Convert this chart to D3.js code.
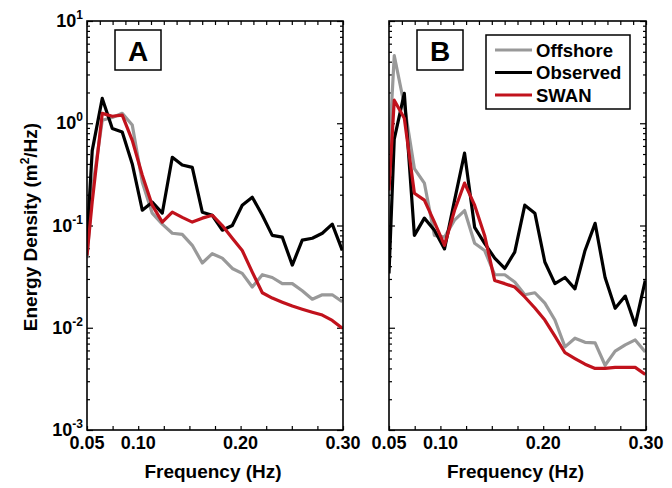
<!DOCTYPE html>
<html>
<head>
<meta charset="utf-8">
<script src="https://cdn.jsdelivr.net/npm/d3@7"></script>
<style>
  body { margin: 0; background: #fff; }
  svg { display: block; font-family: "Liberation Sans", Arial, sans-serif; font-weight: bold; }
</style>
</head>
<body>
<svg id="chart"></svg>
<script>
// frequency bins (Hz)
let freq = [0.05, 0.0551, 0.0649, 0.0747, 0.0844, 0.0942, 0.1040, 0.1137, 0.1235, 0.1333,
            0.1430, 0.1528, 0.1626, 0.1723, 0.1821, 0.1919, 0.2016, 0.2114, 0.2212, 0.2309,
            0.2407, 0.2505, 0.2602, 0.2700, 0.2798, 0.2895, 0.2993]

// panel A spectra (m^2/Hz)
let offshoreA = [0.048, 0.22, 1.07, 1.14, 1.25, 0.96, 0.265, 0.132, 0.103, 0.084,
                 0.082, 0.064, 0.043, 0.053, 0.048, 0.038, 0.034, 0.025, 0.033, 0.031,
                 0.027, 0.027, 0.023, 0.019, 0.021, 0.021, 0.018]
let observedA = [0.072, 0.54, 1.75, 0.89, 0.82, 0.40, 0.141, 0.169, 0.132, 0.465,
                 0.39, 0.37, 0.135, 0.126, 0.090, 0.10, 0.158, 0.189, 0.126, 0.080,
                 0.077, 0.041, 0.072, 0.075, 0.084, 0.103, 0.057]
let swanA = [0.051, 0.17, 1.25, 1.17, 1.2, 0.68, 0.31, 0.158, 0.108, 0.135,
             0.12, 0.108, 0.118, 0.126, 0.10, 0.075, 0.057, 0.035, 0.022, 0.0195,
             0.0178, 0.0163, 0.0152, 0.0142, 0.0133, 0.0118, 0.0099]

// panel B spectra (m^2/Hz)
let offshoreB = [0.5, 4.6, 1.5, 0.36, 0.26, 0.08, 0.077, 0.113, 0.14, 0.067,
                 0.057, 0.033, 0.033, 0.028, 0.021, 0.022, 0.0174, 0.0119, 0.0065, 0.0079,
                 0.0072, 0.0071, 0.0043, 0.0059, 0.0068, 0.0076, 0.0058]
let observedB = [0.034, 0.7, 1.96, 0.08, 0.118, 0.09, 0.059, 0.175, 0.51, 0.096,
                 0.067, 0.048, 0.038, 0.055, 0.158, 0.132, 0.044, 0.027, 0.031, 0.024,
                 0.057, 0.105, 0.031, 0.0155, 0.0204, 0.0106, 0.029]
let swanB = [0.22, 1.68, 1.12, 0.207, 0.177, 0.108, 0.064, 0.14, 0.26, 0.158,
             0.08, 0.029, 0.027, 0.025, 0.020, 0.0156, 0.0119, 0.0083, 0.0057, 0.0050,
             0.0044, 0.0040, 0.0040, 0.0041, 0.0041, 0.0041, 0.0035]

let seriesNames = ["Offshore", "Observed", "SWAN"]
let seriesColors = ["#999999", "#000000", "#c1121c"]
let xTickValues = [0.05, 0.10, 0.20, 0.30]
let xTickLabels = ["0.05", "0.10", "0.20", "0.30"]
let yTickExp = [1, 0, -1, -2, -3]

let svgWidth = 672, svgHeight = 488
let plotTop = 21, plotBottom = 430

let svg = d3.select('#chart')
   .attr("width", svgWidth)
   .attr("height", svgHeight)

let panels = [
  { label: "A", left: 87, right: 343, data: [offshoreA, observedA, swanA], yLabels: true, legend: false },
  { label: "B", left: 389, right: 646, data: [offshoreB, observedB, swanB], yLabels: false, legend: true }
]

let yScale = d3.scaleLog().domain([1e-3, 1e1]).range([plotBottom, plotTop])

// log minor ticks 2..9 per decade
let yMinor = []
for (let e = -3; e < 1; e++) {
  for (let m = 2; m <= 9; m++) yMinor.push(m * Math.pow(10, e))
}

panels.forEach((p, pi) => {
  let xScale = d3.scaleLinear().domain([0.05, 0.30]).range([p.left, p.right])
  let w = p.right - p.left, h = plotBottom - plotTop
  let g = svg.append("g")

  g.append("clipPath").attr("id", "clip" + pi)
    .append("rect").attr("x", p.left).attr("y", plotTop).attr("width", w).attr("height", h)

  // ticks (inward)
  let majorY = yTickExp.map(e => Math.pow(10, e))
  g.append("g").attr("transform", "translate(" + p.left + ",0)")
    .call(d3.axisLeft(yScale).tickValues(majorY).tickSize(-6).tickFormat(""))
  g.append("g").attr("transform", "translate(" + p.left + ",0)")
    .call(d3.axisLeft(yScale).tickValues(yMinor).tickSize(-3).tickFormat(""))
  g.append("g").attr("transform", "translate(" + p.right + ",0)")
    .call(d3.axisRight(yScale).tickValues(majorY).tickSize(-6).tickFormat(""))
  g.append("g").attr("transform", "translate(" + p.right + ",0)")
    .call(d3.axisRight(yScale).tickValues(yMinor).tickSize(-3).tickFormat(""))
  g.append("g").attr("transform", "translate(0," + plotBottom + ")")
    .call(d3.axisBottom(xScale).tickValues(d3.range(0.05, 0.3001, 0.025)).tickSize(-4).tickFormat(""))
  g.append("g").attr("transform", "translate(0," + plotTop + ")")
    .call(d3.axisTop(xScale).tickValues(d3.range(0.05, 0.3001, 0.0125)).tickSize(-4).tickFormat(""))
  g.selectAll(".domain").remove()
  g.selectAll(".tick line").attr("stroke", "#000").attr("stroke-width", 1.2)

  // lines
  let line = d3.line().x((d, i) => xScale(freq[i])).y(d => yScale(d))
  p.data.forEach((series, si) => {
    g.append("path")
      .datum(series)
      .attr("clip-path", "url(#clip" + pi + ")")
      .attr("d", line)
      .attr("fill", "none")
      .attr("stroke", seriesColors[si])
      .attr("stroke-width", 3.2)
      .attr("stroke-linejoin", "round")
  })

  // frame
  g.append("rect").attr("x", p.left).attr("y", plotTop).attr("width", w).attr("height", h)
    .attr("fill", "none").attr("stroke", "#000").attr("stroke-width", 1.6)

  // x tick labels
  g.selectAll(".xl").data(xTickValues).enter().append("text")
    .attr("x", d => xScale(d)).attr("y", plotBottom + 19)
    .attr("text-anchor", "middle").attr("font-size", 18)
    .text((d, i) => xTickLabels[i])

  // x title
  g.append("text").attr("x", (p.left + p.right) / 2 - 2).attr("y", plotBottom + 48)
    .attr("text-anchor", "middle").attr("font-size", 19)
    .text("Frequency (Hz)")

  // y tick labels
  if (p.yLabels) {
    yTickExp.forEach(e => {
      let t = g.append("text").attr("x", p.left - 4).attr("y", yScale(Math.pow(10, e)) + 6)
        .attr("text-anchor", "end").attr("font-size", 18)
      t.append("tspan").text("10")
      t.append("tspan").attr("dy", -8).attr("font-size", 12).text(e)
    })
  }

  // panel letter box
  g.append("rect").attr("x", p.left + 28).attr("y", 30).attr("width", 46).attr("height", 40)
    .attr("fill", "#fff").attr("stroke", "#000").attr("stroke-width", 1.5)
  g.append("text").attr("x", p.left + 51).attr("y", 61)
    .attr("text-anchor", "middle").attr("font-size", 28)
    .text(p.label)

  // legend
  if (p.legend) {
    let lx = 486, ly = 35
    g.append("rect").attr("x", lx).attr("y", ly).attr("width", 144).attr("height", 74)
      .attr("fill", "#fff").attr("stroke", "#000").attr("stroke-width", 1.5)
    seriesNames.forEach((name, i) => {
      let yy = ly + 15 + i * 22.5
      g.append("line").attr("x1", lx + 9).attr("x2", lx + 46).attr("y1", yy).attr("y2", yy)
        .attr("stroke", seriesColors[i]).attr("stroke-width", 3.2)
      g.append("text").attr("x", lx + 50).attr("y", yy + 6.5).attr("font-size", 18.5).text(name)
    })
  }
})

// y title
svg.append("text")
  .attr("transform", "translate(37,227) rotate(-90)")
  .attr("text-anchor", "middle").attr("font-size", 19)
  .call(t => {
    t.append("tspan").text("Energy Density (m")
    t.append("tspan").attr("dy", -8).attr("font-size", 12).text("2")
    t.append("tspan").attr("dy", 8).text("/Hz)")
  })
</script>
</body>
</html>
